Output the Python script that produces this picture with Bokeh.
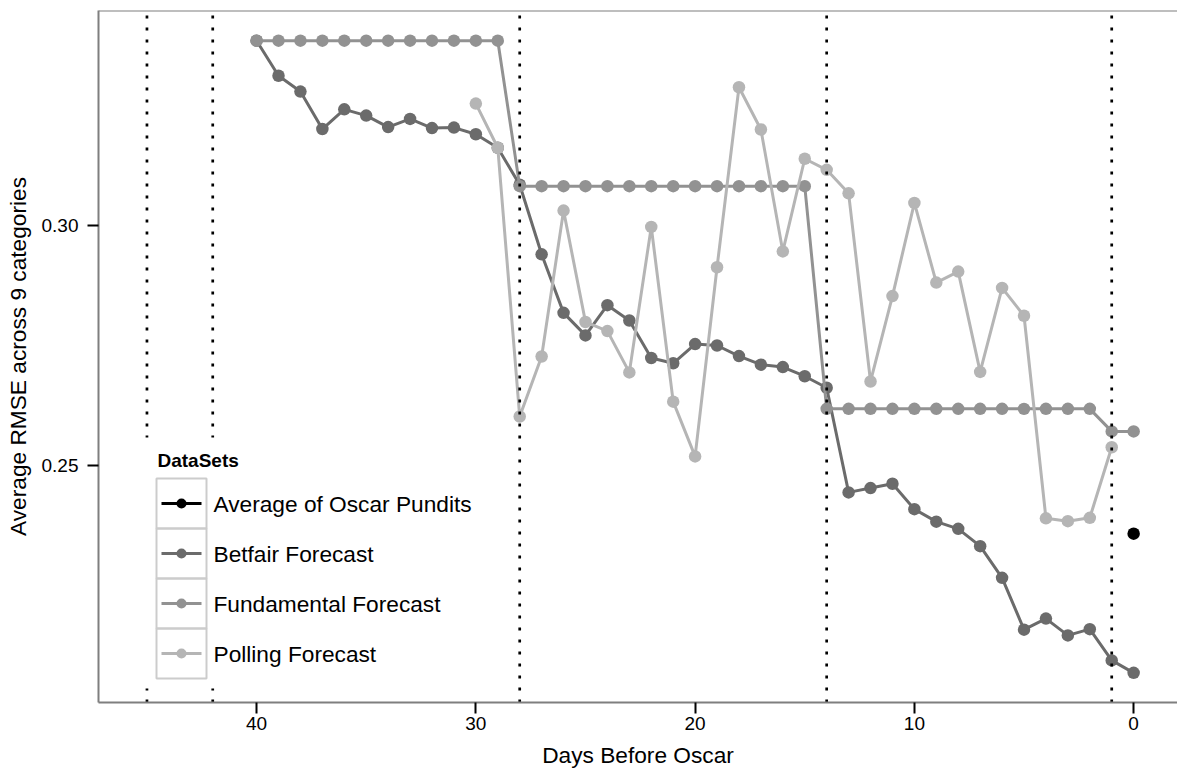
from bokeh.plotting import figure
from bokeh.models import Range1d, FixedTicker, NumeralTickFormatter, Span
from bokeh.core.properties import value
from bokeh.embed import file_html
from bokeh.resources import INLINE

# ---------------- data ----------------
series_names = ["Average of Oscar Pundits", "Betfair Forecast",
                "Fundamental Forecast", "Polling Forecast"]
series_colors = ["#000000", "#6b6b6b", "#929292", "#b5b5b5"]

pundit_days = [0]
pundit_rmse = [0.2358]

betfair_days = list(range(40, -1, -1))
betfair_rmse = [0.3385, 0.3312, 0.3279, 0.3201, 0.3242, 0.3229, 0.3205, 0.3222,
                0.3203, 0.3204, 0.3190, 0.3162, 0.3085,
                0.2940, 0.2818, 0.2771, 0.2834, 0.2802, 0.2724, 0.2713, 0.2753,
                0.2750, 0.2728, 0.2710, 0.2705, 0.2686, 0.2662,
                0.2444, 0.2453, 0.2462, 0.2409, 0.2383, 0.2368, 0.2332, 0.2266,
                0.2158, 0.2181, 0.2146, 0.2159, 0.2094, 0.2068]

fundamental_days = list(range(40, -1, -1))
fundamental_rmse = [0.3385, 0.3385, 0.3385, 0.3385, 0.3385, 0.3385, 0.3385, 0.3385,
                    0.3385, 0.3385, 0.3385, 0.3385,
                    0.3082, 0.3082, 0.3082, 0.3082, 0.3082, 0.3082, 0.3082, 0.3082,
                    0.3082, 0.3082, 0.3082, 0.3082, 0.3082, 0.3082,
                    0.2618, 0.2618, 0.2618, 0.2618, 0.2618, 0.2618, 0.2618, 0.2618,
                    0.2618, 0.2618, 0.2618, 0.2618, 0.2618,
                    0.2571, 0.2571]

polling_days = list(range(30, 0, -1))
polling_rmse = [0.3254, 0.3162, 0.2602, 0.2727, 0.3031, 0.2799, 0.2780, 0.2694,
                0.2997, 0.2633, 0.2519, 0.2913, 0.3288, 0.3200, 0.2946, 0.3139,
                0.3116, 0.3067, 0.2675, 0.2853, 0.3047, 0.2881, 0.2904, 0.2695,
                0.2870, 0.2812, 0.2390, 0.2384, 0.2391, 0.2538]

event_days = [45, 42, 28, 14, 1]

x_ticks = [40, 30, 20, 10, 0]
y_ticks = [0.25, 0.30]

# ---------------- layout ----------------
FONT = "Liberation Sans"
X0, X1 = 47.21, -2.0
Y0, Y1 = 0.200625, 0.34479
W, H = 1177, 771
ML, MT, MB = 98, 10, 69
FW, FH = W - ML, H - MT - MB
FL, FT = ML, MT
BORDER = "#7f7f7f"


def dx(px):
    return X0 + (px - FL) / FW * (X1 - X0)


def dy(py):
    return Y1 - (py - FT) / FH * (Y1 - Y0)


p = figure(width=W, height=H, output_backend="svg", toolbar_location=None,
           x_range=Range1d(X0, X1), y_range=Range1d(Y0, Y1),
           min_border_left=ML, min_border_right=0, min_border_top=MT,
           min_border_bottom=MB, background_fill_color="white",
           border_fill_color="white")
p.xgrid.visible = False
p.ygrid.visible = False
p.outline_line_color = None

for ax in (p.xaxis[0], p.yaxis[0]):
    ax.axis_line_color = BORDER
    ax.axis_line_width = 2
    ax.major_tick_in = 0
    ax.major_tick_out = 11
    ax.major_tick_line_color = "black"
    ax.major_tick_line_width = 2
    ax.minor_tick_line_color = None
    ax.major_label_text_font = FONT
    ax.major_label_text_font_size = "19px"
    ax.major_label_text_color = "black"
    ax.axis_label_text_font = FONT
    ax.axis_label_text_font_size = "22.7px"
    ax.axis_label_text_font_style = "normal"
    ax.axis_label_text_color = "black"

p.xaxis[0].ticker = FixedTicker(ticks=x_ticks)
p.xaxis[0].major_label_standoff = 3
p.xaxis[0].axis_label = "Days Before Oscar"
p.xaxis[0].axis_label_standoff = 9

p.yaxis[0].ticker = FixedTicker(ticks=y_ticks)
p.yaxis[0].formatter = NumeralTickFormatter(format="0.00")
p.yaxis[0].major_label_standoff = 9
p.yaxis[0].axis_label = "Average RMSE across 9 categories"
p.yaxis[0].axis_label_standoff = 8

# top border of the panel
p.add_layout(Span(location=Y1, dimension="width", line_color=BORDER,
                  line_width=2))

# ---------------- data marks ----------------
all_series = [
    (pundit_days, pundit_rmse, series_colors[0]),
    (betfair_days, betfair_rmse, series_colors[1]),
    (fundamental_days, fundamental_rmse, series_colors[2]),
    (polling_days, polling_rmse, series_colors[3]),
]
for xs, ys, col in all_series:
    if len(xs) > 1:
        p.line(xs, ys, line_color=col, line_width=3)
    p.scatter(xs, ys, size=12.5, fill_color=col, line_color=col, line_width=0)

p.segment(x0=event_days, y0=[Y0] * len(event_days), x1=event_days,
          y1=[Y1] * len(event_days), line_color="black", line_width=2.7,
          line_dash="3 9", line_cap="butt")

# ---------------- legend (drawn manually) ----------------
p.quad(left=[dx(140)], right=[dx(480)], top=[dy(437)], bottom=[dy(688)],
       fill_color="white", line_color=None)
p.text(x=[dx(157)], y=[dy(460)], text=["DataSets"], text_font=value(FONT),
       text_font_size=value("19px"), text_font_style="bold",
       text_baseline="middle", text_align="left", text_color="black")
row_tops = [478, 528, 578, 628]
for i, (name, col) in enumerate(zip(series_names, series_colors)):
    t = row_tops[i]
    c = t + 25
    p.quad(left=[dx(156)], right=[dx(206)], top=[dy(t)], bottom=[dy(t + 50)],
           fill_color=None, line_color="#cccccc", line_width=2)
    p.line([dx(161), dx(201)], [dy(c), dy(c)], line_color=col, line_width=3)
    p.scatter([dx(181)], [dy(c)], size=10, fill_color=col, line_color=col,
              line_width=0)
    p.text(x=[dx(213)], y=[dy(c)], text=[name], text_font=value(FONT),
           text_font_size=value("22.7px"), text_baseline="middle",
           text_align="left", text_color="black")

open("out.html", "w").write(file_html(p, INLINE))
